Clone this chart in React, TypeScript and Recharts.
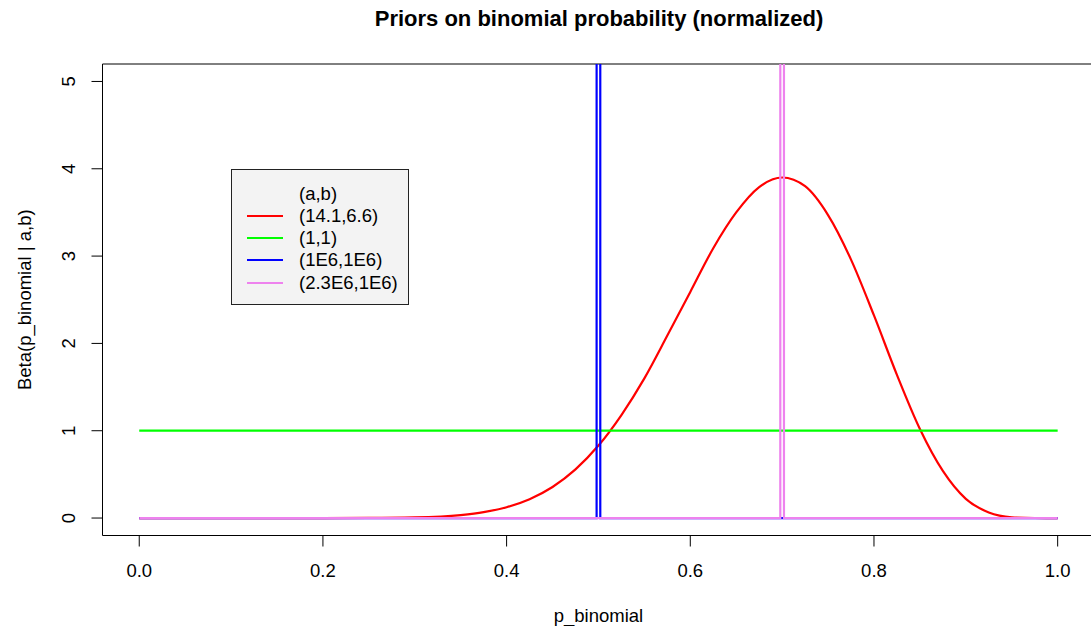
import React from 'react';
import { Legend, Line, LineChart, ReferenceArea, XAxis, YAxis } from 'recharts';

// red prior Beta(14.1, 6.6)
const redX = [0, 0.1, 0.2, 0.25, 0.3, 0.35, 0.375, 0.4, 0.425, 0.45, 0.475, 0.5, 0.525, 0.55, 0.575, 0.6, 0.625, 0.65, 0.675, 0.7, 0.725, 0.75, 0.775, 0.8, 0.825, 0.85, 0.875, 0.9, 0.925, 0.95, 0.975, 1];
const redY = [0, 0, 0.0001, 0.0009, 0.007, 0.034, 0.067, 0.124, 0.216, 0.356, 0.557, 0.83, 1.18, 1.6, 2.09, 2.59, 3.09, 3.5, 3.79, 3.9, 3.8, 3.47, 2.96, 2.32, 1.64, 1.02, 0.54, 0.22, 0.064, 0.009, 0.0003, 0];

const greenX = [0, 1];
const greenY = [1, 1];

// the two narrow spikes go far above the top of the frame
const blueX = [0, 0.498, 0.5, 0.502, 1];
const blueY = [0, 0, 1128, 0, 0];

const pinkX = [0, 0.698, 0.7, 0.702, 1];
const pinkY = [0, 0, 1580, 0, 0];

const xTicks = [0, 0.2, 0.4, 0.6, 0.8, 1];
const yTicks = [0, 1, 2, 3, 4, 5];

const legendTitle = '(a,b)';
const legendLabels = ['(14.1,6.6)', '(1,1)', '(1E6,1E6)', '(2.3E6,1E6)'];
const legendColors = ['#ff0000', '#00ff00', '#0000ff', '#ee82ee'];

const FONT = '"Liberation Sans", Arial, Helvetica, sans-serif';

const toPoints = (xs: number[], ys: number[]) => xs.map((x, i) => ({ x, y: ys[i] }));

const series = [
  { key: 'red', data: toPoints(redX, redY), color: legendColors[0], type: 'monotone' as const },
  { key: 'green', data: toPoints(greenX, greenY), color: legendColors[1], type: 'linear' as const },
  { key: 'blue', data: toPoints(blueX, blueY), color: legendColors[2], type: 'linear' as const },
  { key: 'pink', data: toPoints(pinkX, pinkY), color: legendColors[3], type: 'linear' as const },
];

function YTick({ y, payload }: any) {
  const bx = 75.5;
  return (
    <text
      x={bx}
      y={y}
      transform={`rotate(-90, ${bx}, ${y})`}
      textAnchor="middle"
      fill="#000"
      fontSize={18.5}
      fontFamily={FONT}
    >
      {payload.value}
    </text>
  );
}

function PriorLegend() {
  const rows = [legendTitle, ...legendLabels];
  return (
    <div
      style={{
        width: 176,
        height: 134,
        background: '#f3f3f3',
        border: '1px solid #222',
        fontFamily: FONT,
        fontSize: 18.5,
        position: 'relative',
      }}
    >
      {rows.map((label, i) => (
        <div
          key={label}
          style={{ position: 'absolute', left: 0, top: 12.5 + i * 22.3, height: 22, width: '100%' }}
        >
          {i > 0 && (
            <div
              style={{
                position: 'absolute',
                left: 15,
                top: 10,
                width: 36,
                height: 2,
                background: legendColors[i - 1],
              }}
            />
          )}
          <span style={{ position: 'absolute', left: 67, top: 0, lineHeight: '22px', color: '#000' }}>{label}</span>
        </div>
      ))}
    </div>
  );
}

export default function App() {
  return (
    <div style={{ position: 'absolute', left: 0, top: 0, width: 1091, height: 626, overflow: 'hidden', background: '#fff' }}>
      <LineChart width={1100} height={626} margin={{ top: 64, right: 5.6, bottom: 0, left: 0 }}>
        <XAxis
          type="number"
          dataKey="x"
          domain={[-0.04, 1.04]}
          ticks={xTicks}
          allowDataOverflow
          height={90.5}
          axisLine={false}
          tickSize={11}
          tickMargin={17}
          tickLine={{ stroke: '#000' }}
          tickFormatter={(v: number) => v.toFixed(1)}
          tick={{ fill: '#000', fontSize: 18.5, fontFamily: FONT }}
        />
        <YAxis
          type="number"
          dataKey="y"
          domain={[-0.2, 5.2]}
          ticks={yTicks}
          allowDataOverflow
          width={102.5}
          axisLine={false}
          tickSize={11}
          tickLine={{ stroke: '#000' }}
          tick={<YTick />}
        />
        <ReferenceArea x1={-0.04} x2={1.04} y1={-0.2} y2={5.2} fill="none" stroke="#000" strokeWidth={1} fillOpacity={0} />
        {series.map((s) => (
          <Line
            key={s.key}
            data={s.data}
            dataKey="y"
            type={s.type}
            stroke={s.color}
            strokeWidth={2.2}
            dot={false}
            activeDot={false}
            isAnimationActive={false}
          />
        ))}
        <Legend
          layout="vertical"
          align="center"
          verticalAlign="middle"
          content={() => <PriorLegend />}
          wrapperStyle={{ position: 'absolute', left: 231, top: 169, width: 178, height: 136 }}
        />
        <text x={599} y={26} textAnchor="middle" fontSize={22} fontWeight="bold" fontFamily={FONT} fill="#000">
          Priors on binomial probability (normalized)
        </text>
        <text x={598.5} y={621.5} textAnchor="middle" fontSize={18.5} fontFamily={FONT} fill="#000">
          p_binomial
        </text>
        <text
          x={31}
          y={299.75}
          transform="rotate(-90, 31, 299.75)"
          textAnchor="middle"
          fontSize={18.5}
          fontFamily={FONT}
          fill="#000"
        >
          Beta(p_binomial | a,b)
        </text>
      </LineChart>
    </div>
  );
}
